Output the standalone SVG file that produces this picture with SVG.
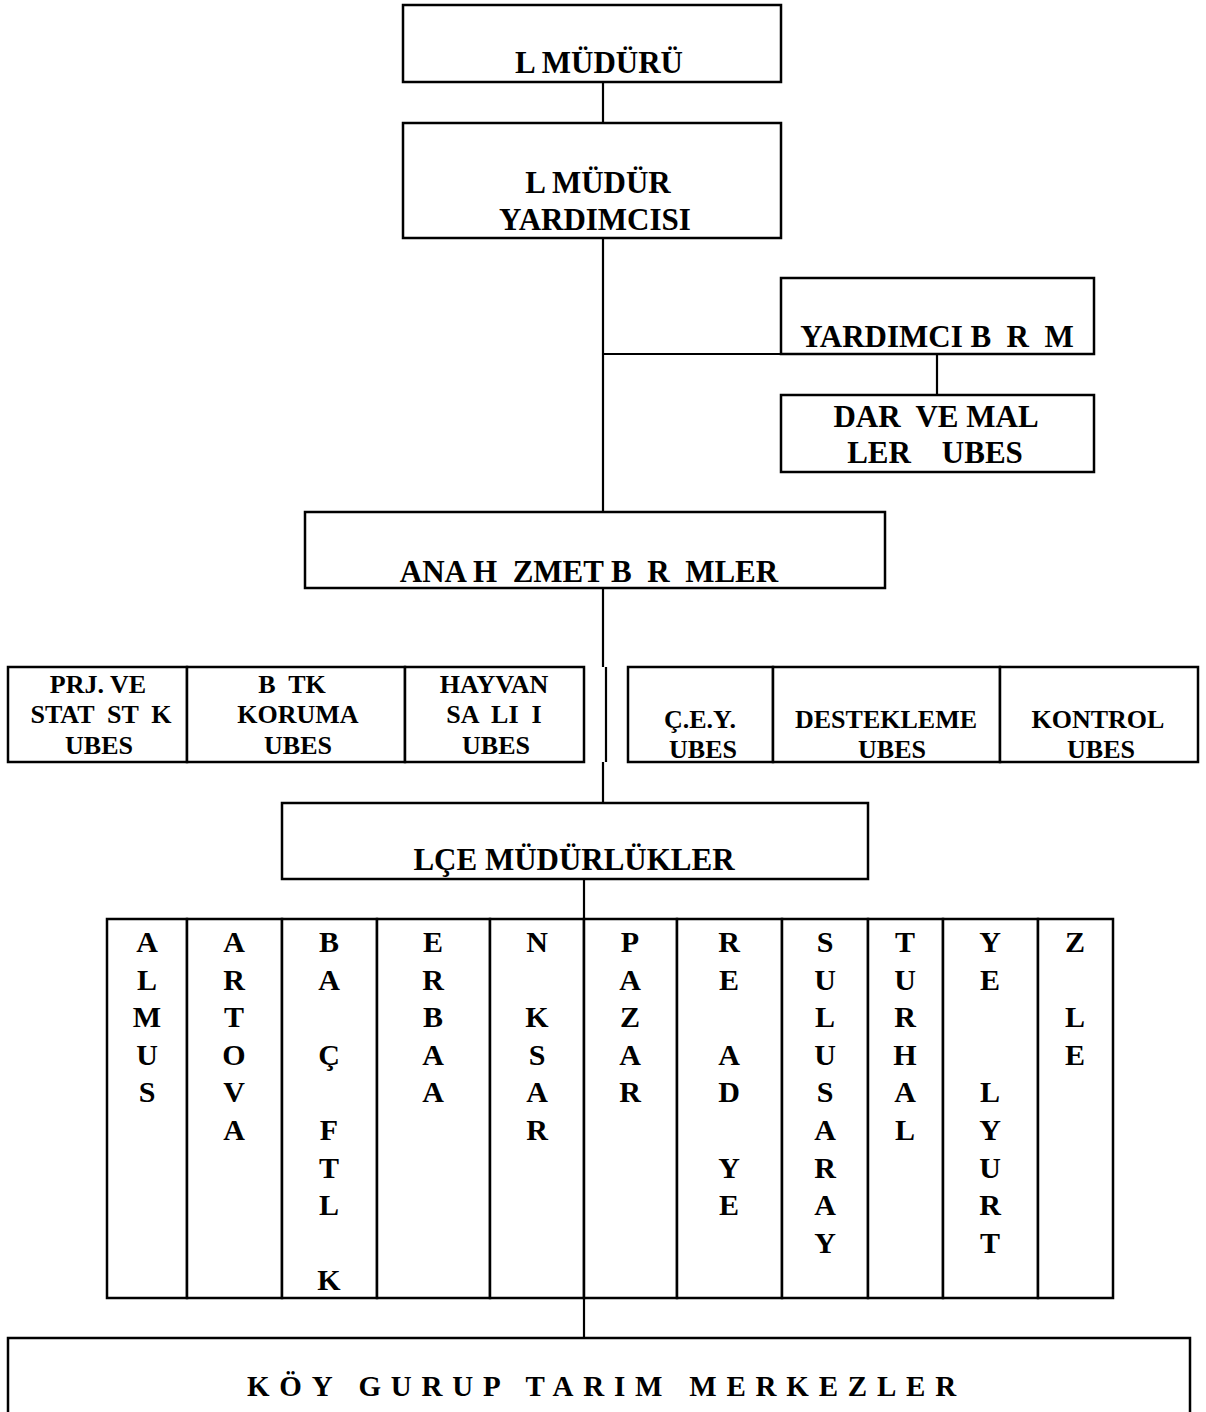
<svg xmlns="http://www.w3.org/2000/svg" width="1206" height="1412" viewBox="0 0 1206 1412">
<style>
.bx{fill:#fff;stroke:#000;stroke-width:2.5}
.ln{fill:none;stroke:#000;stroke-width:2.2}
text{font-family:"Liberation Serif","Times New Roman",serif;font-weight:bold;fill:#000;text-anchor:middle}
.t31{font-size:31px}
.t26{font-size:26px}
.t28{font-size:30px}
.koy{font-size:29px;text-anchor:start;letter-spacing:9.8px}
</style>
<rect width="1206" height="1412" fill="#fff"/>
<g id="connectors">
<line class="ln" x1="603" y1="82" x2="603" y2="123"/>
<line class="ln" x1="603" y1="238" x2="603" y2="512"/>
<line class="ln" x1="603" y1="354" x2="781" y2="354"/>
<line class="ln" x1="937" y1="354" x2="937" y2="395"/>
<line class="ln" x1="603" y1="588" x2="603" y2="667"/>
<line class="ln" x1="606" y1="667" x2="606" y2="762"/>
<line class="ln" x1="603" y1="762" x2="603" y2="803"/>
<line class="ln" x1="584" y1="879" x2="584" y2="919"/>
<line class="ln" x1="584" y1="1298" x2="584" y2="1338"/>
</g>
<g id="n-il-muduru">
<rect class="bx" x="403" y="5" width="378" height="77"/>
<text class="t31" x="599" y="73">L MÜDÜRÜ</text>
</g>
<g id="n-il-mudur-yardimcisi">
<rect class="bx" x="403" y="123" width="378" height="115"/>
<text class="t31" x="598" y="193">L MÜDÜR</text>
<text class="t31" x="595" y="230">YARDIMCISI</text>
</g>
<g id="n-yardimci-birim">
<rect class="bx" x="781" y="278" width="313" height="76"/>
<text class="t31" x="937" y="347" xml:space="preserve">YARDIMCI B  R  M</text>
</g>
<g id="n-idari-mali">
<rect class="bx" x="781" y="395" width="313" height="77"/>
<text class="t31" x="936" y="427" xml:space="preserve">DAR  VE MAL</text>
<text class="t31" x="935" y="463" xml:space="preserve">LER    UBES</text>
</g>
<g id="n-ana-hizmet">
<rect class="bx" x="305" y="512" width="580" height="76"/>
<text class="t31" x="589" y="582" xml:space="preserve">ANA H  ZMET B  R  MLER</text>
</g>
<g id="n-sube-prj">
<rect class="bx" x="8" y="667" width="179" height="95"/>
<text class="t26" x="98" y="693">PRJ. VE</text>
<text class="t26" x="101" y="723" xml:space="preserve">STAT  ST  K</text>
<text class="t26" x="99" y="754">UBES</text>
</g>
<g id="n-sube-bitki">
<rect class="bx" x="187" y="667" width="218" height="95"/>
<text class="t26" x="292" y="693" xml:space="preserve">B  TK</text>
<text class="t26" x="298" y="723">KORUMA</text>
<text class="t26" x="298" y="754">UBES</text>
</g>
<g id="n-sube-hayvan">
<rect class="bx" x="405" y="667" width="179" height="95"/>
<text class="t26" x="494" y="693">HAYVAN</text>
<text class="t26" x="494" y="723" xml:space="preserve">SA  LI  I</text>
<text class="t26" x="496" y="754">UBES</text>
</g>
<g id="n-sube-cey">
<rect class="bx" x="628" y="667" width="145" height="95"/>
<text class="t26" x="700" y="728">Ç.E.Y.</text>
<text class="t26" x="703" y="758">UBES</text>
</g>
<g id="n-sube-destekleme">
<rect class="bx" x="773" y="667" width="227" height="95"/>
<text class="t26" x="886" y="728">DESTEKLEME</text>
<text class="t26" x="892" y="758">UBES</text>
</g>
<g id="n-sube-kontrol">
<rect class="bx" x="1000" y="667" width="198" height="95"/>
<text class="t26" x="1098" y="728">KONTROL</text>
<text class="t26" x="1101" y="758">UBES</text>
</g>
<g id="n-ilce-mudurlukleri">
<rect class="bx" x="282" y="803" width="586" height="76"/>
<text class="t31" x="574" y="870">LÇE MÜDÜRLÜKLER</text>
</g>
<g id="n-ilce-almus">
<rect class="bx" x="107" y="919" width="80" height="379"/>
<text class="t28"><tspan x="147" y="952">A</tspan><tspan x="147" y="989.6">L</tspan><tspan x="147" y="1027.2">M</tspan><tspan x="147" y="1064.8">U</tspan><tspan x="147" y="1102.4">S</tspan></text>
</g>
<g id="n-ilce-artova">
<rect class="bx" x="187" y="919" width="95" height="379"/>
<text class="t28"><tspan x="234" y="952">A</tspan><tspan x="234" y="989.6">R</tspan><tspan x="234" y="1027.2">T</tspan><tspan x="234" y="1064.8">O</tspan><tspan x="234" y="1102.4">V</tspan><tspan x="234" y="1140">A</tspan></text>
</g>
<g id="n-ilce-bascftlk">
<rect class="bx" x="282" y="919" width="95" height="379"/>
<text class="t28"><tspan x="329" y="952">B</tspan><tspan x="329" y="989.6">A</tspan><tspan x="329" y="1064.8">Ç</tspan><tspan x="329" y="1140">F</tspan><tspan x="329" y="1177.6">T</tspan><tspan x="329" y="1215.2">L</tspan><tspan x="329" y="1290.4">K</tspan></text>
</g>
<g id="n-ilce-erbaa">
<rect class="bx" x="377" y="919" width="113" height="379"/>
<text class="t28"><tspan x="433" y="952">E</tspan><tspan x="433" y="989.6">R</tspan><tspan x="433" y="1027.2">B</tspan><tspan x="433" y="1064.8">A</tspan><tspan x="433" y="1102.4">A</tspan></text>
</g>
<g id="n-ilce-niksar">
<rect class="bx" x="490" y="919" width="94" height="379"/>
<text class="t28"><tspan x="537" y="952">N</tspan><tspan x="537" y="1027.2">K</tspan><tspan x="537" y="1064.8">S</tspan><tspan x="537" y="1102.4">A</tspan><tspan x="537" y="1140">R</tspan></text>
</g>
<g id="n-ilce-pazar">
<rect class="bx" x="584" y="919" width="93" height="379"/>
<text class="t28"><tspan x="630" y="952">P</tspan><tspan x="630" y="989.6">A</tspan><tspan x="630" y="1027.2">Z</tspan><tspan x="630" y="1064.8">A</tspan><tspan x="630" y="1102.4">R</tspan></text>
</g>
<g id="n-ilce-resadiye">
<rect class="bx" x="677" y="919" width="105" height="379"/>
<text class="t28"><tspan x="729" y="952">R</tspan><tspan x="729" y="989.6">E</tspan><tspan x="729" y="1064.8">A</tspan><tspan x="729" y="1102.4">D</tspan><tspan x="729" y="1177.6">Y</tspan><tspan x="729" y="1215.2">E</tspan></text>
</g>
<g id="n-ilce-sulusaray">
<rect class="bx" x="782" y="919" width="86" height="379"/>
<text class="t28"><tspan x="825" y="952">S</tspan><tspan x="825" y="989.6">U</tspan><tspan x="825" y="1027.2">L</tspan><tspan x="825" y="1064.8">U</tspan><tspan x="825" y="1102.4">S</tspan><tspan x="825" y="1140">A</tspan><tspan x="825" y="1177.6">R</tspan><tspan x="825" y="1215.2">A</tspan><tspan x="825" y="1252.8">Y</tspan></text>
</g>
<g id="n-ilce-turhal">
<rect class="bx" x="868" y="919" width="75" height="379"/>
<text class="t28"><tspan x="905" y="952">T</tspan><tspan x="905" y="989.6">U</tspan><tspan x="905" y="1027.2">R</tspan><tspan x="905" y="1064.8">H</tspan><tspan x="905" y="1102.4">A</tspan><tspan x="905" y="1140">L</tspan></text>
</g>
<g id="n-ilce-yesilyurt">
<rect class="bx" x="943" y="919" width="95" height="379"/>
<text class="t28"><tspan x="990" y="952">Y</tspan><tspan x="990" y="989.6">E</tspan><tspan x="990" y="1102.4">L</tspan><tspan x="990" y="1140">Y</tspan><tspan x="990" y="1177.6">U</tspan><tspan x="990" y="1215.2">R</tspan><tspan x="990" y="1252.8">T</tspan></text>
</g>
<g id="n-ilce-zile">
<rect class="bx" x="1038" y="919" width="75" height="379"/>
<text class="t28"><tspan x="1075" y="952">Z</tspan><tspan x="1075" y="1027.2">L</tspan><tspan x="1075" y="1064.8">E</tspan></text>
</g>
<g id="n-koy-gurup">
<rect class="bx" x="8" y="1338" width="1182" height="100"/>
<text class="koy" x="247" y="1396">KÖY GURUP TARIM MERKEZLER</text>
</g>
</svg>
